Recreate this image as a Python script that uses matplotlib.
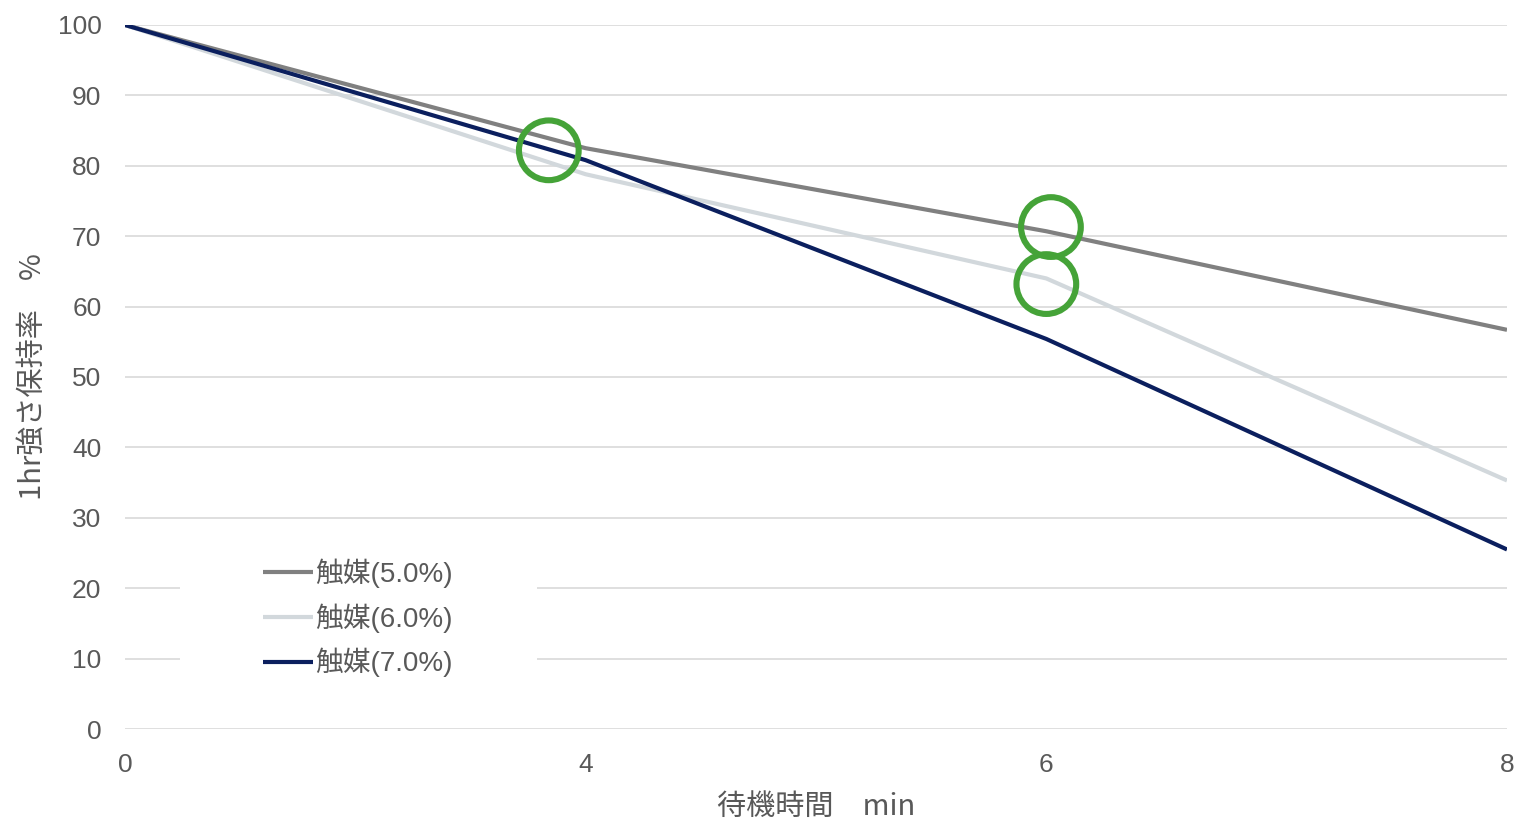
import matplotlib
matplotlib.use("Agg")
import matplotlib.pyplot as plt
from matplotlib.patches import Rectangle

# ── データ ─────────────────────────────────────────────
x_labels = ["0", "4", "6", "8"]
cat_50 = [100, 82.5, 70.7, 56.7]
cat_60 = [100, 78.8, 64.0, 35.3]
cat_70 = [100, 80.8, 55.4, 25.5]
series_names = ["触媒(5.0%)", "触媒(6.0%)", "触媒(7.0%)"]

# 強調する丸印 (カテゴリ位置, 値)
mark_x = [0.92, 2.01, 2.0]
mark_y = [82.2, 71.3, 63.2]

y_ticks = list(range(0, 101, 10))

plt.rcParams["font.family"] = ["Liberation Sans", "Noto Sans CJK JP", "DejaVu Sans"]

fig = plt.figure(figsize=(15.17, 8.22), dpi=100)
ax = fig.add_axes([125 / 1517, 1 - 729 / 822, 1382 / 1517, 704 / 822])

xs = list(range(len(x_labels)))
colors = ["#808080", "#D2D8DC", "#0B1F5E"]
for vals, name, c in zip([cat_50, cat_60, cat_70], series_names, colors):
    ax.plot(xs, vals, color=c, linewidth=3.0, label=name, zorder=3,
            solid_capstyle="butt")

ax.scatter(mark_x, mark_y, s=43 ** 2, facecolors="none", edgecolors="#45A338",
           linewidths=4.4, zorder=5)

ax.set_xlim(0, 3)
ax.set_ylim(0, 100)
ax.set_xticks(xs)
ax.set_xticklabels(x_labels)
ax.set_yticks(y_ticks)
ax.tick_params(axis="both", length=0, labelsize=19, labelcolor="#595959")
ax.tick_params(axis="y", pad=17)
ax.tick_params(axis="x", pad=17)
ax.grid(axis="y", color="#D9D9D9", linewidth=1.2, zorder=0)
ax.set_axisbelow(True)
for s in ax.spines.values():
    s.set_visible(False)

ax.set_ylabel("1hr強さ保持率　%", fontsize=21, color="#595959",
              family=["Noto Sans CJK JP", "DejaVu Sans"], labelpad=7)
ax.set_xlabel("待機時間　min", fontsize=21, color="#595959",
              family=["Noto Sans CJK JP", "DejaVu Sans"], labelpad=11)

# 凡例の白い背景
ax.add_patch(Rectangle((0.040, 0.048), 0.258, 0.213, transform=ax.transAxes,
                       facecolor="white", edgecolor="none", zorder=1))
leg = ax.legend(loc="center left", bbox_to_anchor=(0.0999, 0.1577),
                frameon=False, handlelength=1.8,
                handletextpad=0.07, labelspacing=0.55, borderpad=0,
                borderaxespad=0,
                prop={"family": ["Liberation Sans", "Noto Sans CJK JP", "DejaVu Sans"],
                      "size": 20})
for t in leg.get_texts():
    t.set_color("#595959")

fig.savefig("out.png", dpi=100, facecolor="white")
